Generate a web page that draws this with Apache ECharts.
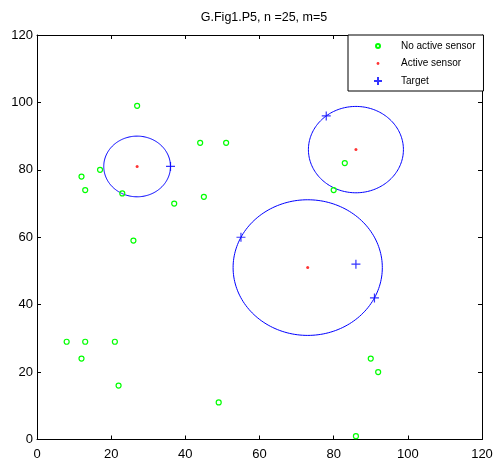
<!DOCTYPE html>
<html>
<head>
<meta charset="utf-8">
<script src="https://cdn.jsdelivr.net/npm/echarts@6/dist/echarts.min.js"></script>
<style>html,body{margin:0;padding:0;background:#fff;}#c{width:496px;height:468px;}</style>
</head>
<body>
<div id="c"></div>
<script>
// Data
var inactiveSensors = [
  [27,99],[44,88],[51,88],[17,80],[12,78],[13,74],[23,73],[37,70],[45,72],[26,59],
  [83,82],[80,74],[8,29],[13,29],[21,29],[12,24],[22,16],[49,11],[90,24],[92,20],[86,1]
];
var activeSensors = [[27,81],[86,86],[73,51]];
var targets = [[36,81],[78,96],[55,60],[86,52],[91,42]];
// coverage circles: [centerX, centerY, radius]
var coverage = [[27,81,9],[86,86,12.81],[73,51,20.12]];
var xTicks = [0,20,40,60,80,100,120];
var yTicks = [0,20,40,60,80,100,120];
var titleText = 'G.Fig1.P5, n =25, m=5';
var legendNames = ['No active sensor','Active sensor','Target'];

var chart = echarts.init(document.getElementById('c'), null, {renderer:'canvas'});
var FONT = 'Liberation Sans, Arial, sans-serif';
var axisCommon = {
  min: 0, max: 120, interval: 20,
  axisLine: {show:true, onZero:false, lineStyle:{color:'#000', width:1}},
  axisTick: {show:true, inside:true, length:4, lineStyle:{color:'#000'}},
  splitLine: {show:false}
};
var option = {
  animation: false,
  backgroundColor: '#fff',
  title: {
    text: titleText, left: 259, top: 6, textAlign: 'center',
    textStyle: {fontFamily: FONT, fontSize: 12.5, fontWeight: 'normal', color: '#000'}
  },
  grid: {left: 37, right: 14, top: 35, bottom: 28.5, containLabel: false},
  legend: {
    orient: 'vertical', left: 348, top: 35,
    padding: [5, 8, 4, 24],
    itemWidth: 36, itemHeight: 10, itemGap: 6.5,
    borderColor: '#000', borderWidth: 1, backgroundColor: '#fff',
    textStyle: {fontFamily: FONT, fontSize: 10, color: '#000'},
    data: [
      {name: legendNames[0], icon: 'path://M0,0M10,10M5,3A2,2,0,1,1,5,7A2,2,0,1,1,5,3Z'},
      {name: legendNames[1], icon: 'path://M0,0M10,10M5,3.6A1.4,1.4,0,1,1,5,6.4A1.4,1.4,0,1,1,5,3.6Z'},
      {name: legendNames[2], icon: 'path://M0,0M10,10M1,5L9,5M5,1L5,9'}
    ]
  },
  xAxis: [
    Object.assign({}, axisCommon, {
      type: 'value', position: 'bottom',
      axisLabel: {show:true, margin: 8, fontFamily: FONT, fontSize: 13, color: '#000',
        formatter: function(v){ return xTicks.indexOf(v) >= 0 ? String(v) : ''; }}
    }),
    Object.assign({}, axisCommon, {type: 'value', position: 'top', axisLabel: {show:false}})
  ],
  yAxis: [
    Object.assign({}, axisCommon, {
      type: 'value', position: 'left',
      axisLabel: {show:true, margin: 4, fontFamily: FONT, fontSize: 13, color: '#000',
        formatter: function(v){ return yTicks.indexOf(v) >= 0 ? String(v) : ''; }}
    }),
    Object.assign({}, axisCommon, {type: 'value', position: 'right', axisLabel: {show:false}})
  ],
  series: [
    {
      name: 'coverage', type: 'custom', xAxisIndex: 0, yAxisIndex: 0,
      data: coverage, silent: true,
      renderItem: function(params, api) {
        var cx = api.value(0), cy = api.value(1), r = api.value(2);
        var pts = [];
        for (var i = 0; i <= 180; i++) {
          var t = i / 180 * Math.PI * 2;
          pts.push(api.coord([cx + r * Math.cos(t), cy + r * Math.sin(t)]));
        }
        return {type: 'polyline', shape: {points: pts},
          style: {stroke: '#0000ff', lineWidth: 1, fill: null}};
      },
      z: 1
    },
    {
      name: legendNames[0], type: 'scatter', data: inactiveSensors,
      symbol: 'circle', symbolSize: 5,
      itemStyle: {color: 'transparent', borderColor: '#00ff00', borderWidth: 1.2, opacity: 1},
      z: 3
    },
    {
      name: legendNames[1], type: 'scatter', data: activeSensors,
      symbol: 'circle', symbolSize: 3,
      itemStyle: {color: '#ff0000'},
      z: 3
    },
    {
      name: legendNames[2], type: 'scatter', data: targets,
      symbol: 'path://M0,5L10,5M5,0L5,10', symbolSize: 9,
      itemStyle: {color: 'transparent', borderColor: '#0000ff', borderWidth: 1.2},
      z: 4
    }
  ]
};
chart.setOption(option);
</script>
</body>
</html>
